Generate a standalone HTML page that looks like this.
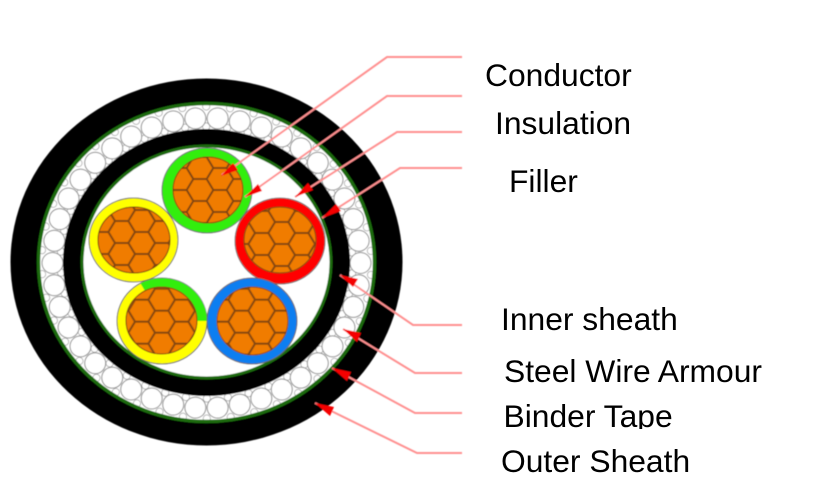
<!DOCTYPE html>
<html><head><meta charset="utf-8"><style>
html,body{margin:0;padding:0;background:#fff;width:818px;height:481px;overflow:hidden}
svg{display:block}
text{font-family:"Liberation Sans",Arial,sans-serif;font-size:31.8px;fill:#000}
.lead{fill:none;stroke:#ff9090;stroke-width:2}
.hd{fill:#f40000}
.lat{stroke:#84460e;stroke-width:2;fill:none}
</style></head><body>
<svg width="818" height="481" viewBox="0 0 818 481" xmlns="http://www.w3.org/2000/svg">
<defs>
<filter id="soft" x="-5%" y="-5%" width="110%" height="110%"><feGaussianBlur stdDeviation="0.4"/></filter>
<pattern id="h1" patternUnits="userSpaceOnUse" width="40" height="22" patternTransform="translate(200 190)"><rect width="40" height="22" fill="#f07c00"/><path class="lat" d="M13.33 0H26.67L33.33 11H40M0 11H6.67L13.33 0M6.67 11L13.33 22H26.67L33.33 11"/></pattern>
<pattern id="h2" patternUnits="userSpaceOnUse" width="40" height="22" patternTransform="translate(141.7 243)"><rect width="40" height="22" fill="#f07c00"/><path class="lat" d="M13.33 0H26.67L33.33 11H40M0 11H6.67L13.33 0M6.67 11L13.33 22H26.67L33.33 11"/></pattern>
<pattern id="h3" patternUnits="userSpaceOnUse" width="40" height="22" patternTransform="translate(281.7 233)"><rect width="40" height="22" fill="#f07c00"/><path class="lat" d="M13.33 0H26.67L33.33 11H40M0 11H6.67L13.33 0M6.67 11L13.33 22H26.67L33.33 11"/></pattern>
<pattern id="h4" patternUnits="userSpaceOnUse" width="40" height="22" patternTransform="translate(161.7 321.7)"><rect width="40" height="22" fill="#f07c00"/><path class="lat" d="M13.33 0H26.67L33.33 11H40M0 11H6.67L13.33 0M6.67 11L13.33 22H26.67L33.33 11"/></pattern>
<pattern id="h5" patternUnits="userSpaceOnUse" width="40" height="22" patternTransform="translate(241.7 321.7)"><rect width="40" height="22" fill="#f07c00"/><path class="lat" d="M13.33 0H26.67L33.33 11H40M0 11H6.67L13.33 0M6.67 11L13.33 22H26.67L33.33 11"/></pattern>
</defs>

<g filter="url(#soft)">
<ellipse cx="206.5" cy="262" rx="196" ry="183.5" fill="#000"/>
<ellipse cx="206.5" cy="262.5" rx="168" ry="159" fill="#fff"/>

<!-- interstice rows -->
<g fill="none" stroke-linecap="round" transform="rotate(4.2857 206.5 262.5)">
<ellipse cx="206.5" cy="262.5" rx="165" ry="156" pathLength="42" stroke="#a0a0a0" stroke-width="8" stroke-dasharray="0 1"/>
<ellipse cx="206.5" cy="262.5" rx="165" ry="156" pathLength="42" stroke="#fff" stroke-width="6.500" stroke-dasharray="0 1"/>
<ellipse cx="206.5" cy="262.5" rx="146" ry="136" pathLength="42" stroke="#a0a0a0" stroke-width="8" stroke-dasharray="0 1"/>
<ellipse cx="206.5" cy="262.5" rx="146" ry="136" pathLength="42" stroke="#fff" stroke-width="6.500" stroke-dasharray="0 1"/>
</g>
<!-- armour wires -->
<g fill="none" stroke-linecap="round">
<ellipse cx="206.5" cy="263" rx="154" ry="145" pathLength="42" stroke="#8a8a8a" stroke-width="22" stroke-dasharray="0 1"/>
<ellipse cx="206.5" cy="263" rx="154" ry="145" pathLength="42" stroke="#fff" stroke-width="20" stroke-dasharray="0 1"/>
</g>
<ellipse cx="206.5" cy="262.5" rx="168" ry="159" fill="none" stroke="#1d6b0f" stroke-width="3.500"/>

<!-- inner sheath -->
<ellipse cx="206.5" cy="262.5" rx="143.5" ry="133.5" fill="#000"/>
<ellipse cx="206.5" cy="262" rx="124.5" ry="116" fill="#fff" stroke="#1d6b0f" stroke-width="3"/>

<!-- cores -->
<g stroke="#666" stroke-width="1">
<ellipse cx="207" cy="190.5" rx="45" ry="42.5" fill="#33ee11"/>
<ellipse cx="208" cy="190" rx="35" ry="33" fill="url(#h1)" stroke="#7a4210"/>
<ellipse cx="133.5" cy="240" rx="44.5" ry="42" fill="#ffff00"/>
<ellipse cx="134" cy="240" rx="36" ry="33" fill="url(#h2)" stroke="#7a4210"/>
<ellipse cx="280" cy="241" rx="45" ry="43" fill="#ff0000"/>
<ellipse cx="280" cy="240" rx="36" ry="33" fill="url(#h3)" stroke="#7a4210"/>
<ellipse cx="162" cy="321" rx="45" ry="43" fill="#ffff00"/>
<path d="M140.5 283.5A45 43 0 0 1 207 321L197 321A35.500 33.500 0 0 0 145 291Z" fill="#33ee11" stroke="none"/>
<ellipse cx="161.500" cy="320.500" rx="35.500" ry="33.500" fill="url(#h4)" stroke="#7a4210"/>
<ellipse cx="252" cy="321" rx="45" ry="43" fill="#0a7ef0"/>
<ellipse cx="252.500" cy="321" rx="35.500" ry="34" fill="url(#h5)" stroke="#7a4210"/>
</g>

<!-- leaders -->
<polyline class="lead" points="462,57 387,57 222,175"/>
<polyline class="lead" points="462,96 387,96 245,197"/>
<polyline class="lead" points="462,132 397,132 295,197"/>
<polyline class="lead" points="462,168 400,168 322,218"/>
<polyline class="lead" points="462,325 413,325 340,275"/>
<polyline class="lead" points="462,373 415,373 343,329"/>
<polyline class="lead" points="462,413 415,413 332,368"/>
<polyline class="lead" points="462,453 417,453 315,403"/>
<polygon class="hd" points="221,176 233,163 238,170"/>
<polygon class="hd" points="245,197 258,184 262,191"/>
<polygon class="hd" points="295,197 308,183 313,190"/>
<polygon class="hd" points="322,218 336,204 341,211"/>
<polygon class="hd" points="340,275 358,279 353,287"/>
<polygon class="hd" points="343,329 361,333 357,342"/>
<polygon class="hd" points="332,368 351,372 347,381"/>
<polygon class="hd" points="315,403 334,407 330,416"/>
</g>

<!-- labels -->
<text x="485" y="86">Conductor</text>
<text x="495" y="134">Insulation</text>
<text x="509" y="192">Filler</text>
<text x="501" y="330">Inner sheath</text>
<text x="504" y="382">Steel Wire Armour</text>
<text x="503.500" y="427">Binder Tape</text>
<text x="501" y="472">Outer Sheath</text>
<rect x="490" y="429" width="200" height="10" fill="#fff"/>
</svg>
</body></html>
